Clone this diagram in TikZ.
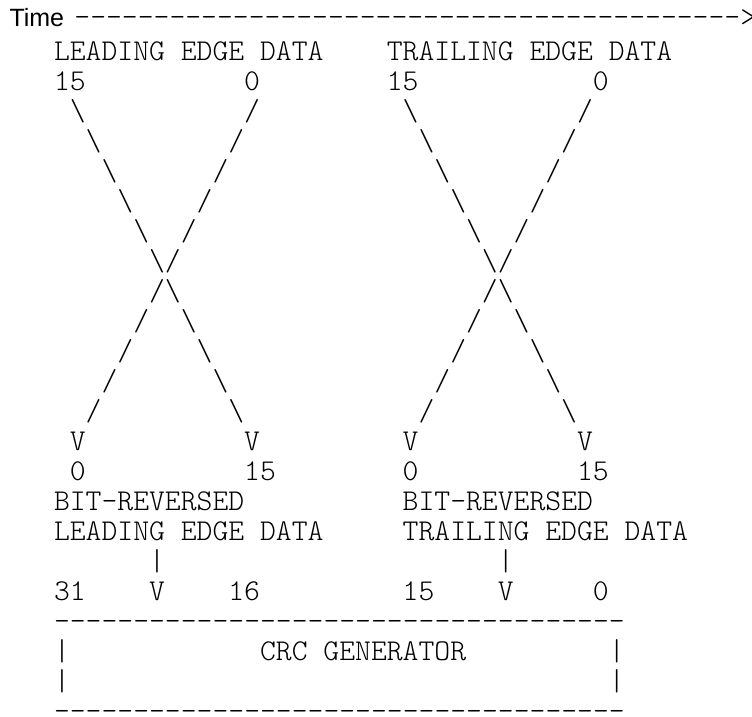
\documentclass[tikz,border=0pt]{standalone}
\usepackage{fontspec}
\newfontfamily\timefont{Liberation Sans}
\IfFontExistsTF{lmmonolt10-regular.otf}
  {\newfontfamily\monolt{lmmonolt10-regular.otf}
   \newcommand{\myascii}{\monolt\fontsize{30.2pt}{30pt}\selectfont}}
  {\newcommand{\myascii}{\ttfamily\fontsize{30.8pt}{30pt}\selectfont}}
\tikzset{
  asc/.style={inner sep=0pt,outer sep=0pt,anchor=base west,font=\myascii},
  timelbl/.style={inner sep=0pt,outer sep=0pt,anchor=base west,font=\timefont\fontsize{25pt}{30pt}\selectfont}
}
\begin{document}
\begin{tikzpicture}[x=1pt,y=1pt]
\useasboundingbox[fill=white] (0,0) rectangle (752,-717);
\node[timelbl] (time) at (9.5,-27) {Time};
\node[asc] (timeaxis) at (74.4,-27) {------------------------------------------>};
\begin{scope}[shift={(54,-30)}, x=15.85pt, y=-30pt]
  % row 1
  \node[asc] (l1a) at (0,1) {LEADING};
  \node[asc] (l1b) at (8,1) {EDGE};
  \node[asc] (l1c) at (13,1) {DATA};
  \node[asc] (t1a) at (21,1) {TRAILING};
  \node[asc] (t1b) at (30,1) {EDGE};
  \node[asc] (t1c) at (35,1) {DATA};
  % row 2
  \node[asc] (l2a) at (0,2) {15};
  \node[asc] (l2b) at (12,2) {0};
  \node[asc] (t2a) at (21,2) {15};
  \node[asc] (t2b) at (34,2) {0};
  % crossings
  \foreach \k in {0,...,5} {
    \pgfmathtruncatemacro{\rr}{3+\k}
    \node[asc] (lbs\k) at (1+\k,\rr) {\textbackslash};
    \node[asc] (lsl\k) at (12-\k,\rr) {/};
    \node[asc] (tbs\k) at (22+\k,\rr) {\textbackslash};
    \node[asc] (tsl\k) at (33-\k,\rr) {/};
  }
  \foreach \k in {0,...,4} {
    \pgfmathtruncatemacro{\rr}{9+\k}
    \node[asc] (lsm\k) at (6-\k,\rr) {/};
    \node[asc] (lbm\k) at (7+\k,\rr) {\textbackslash};
    \node[asc] (tsm\k) at (27-\k,\rr) {/};
    \node[asc] (tbm\k) at (28+\k,\rr) {\textbackslash};
  }
  % row 14
  \node[asc] (lv1) at (1,14) {V};
  \node[asc] (lv2) at (12,14) {V};
  \node[asc] (tv1) at (22,14) {V};
  \node[asc] (tv2) at (33,14) {V};
  % row 15
  \node[asc] (l15a) at (1,15) {0};
  \node[asc] (l15b) at (12,15) {15};
  \node[asc] (t15a) at (22,15) {0};
  \node[asc] (t15b) at (33,15) {15};
  % row 16-17
  \node[asc] (lbr) at (0,16) {BIT-REVERSED};
  \node[asc] (tbr) at (22,16) {BIT-REVERSED};
  \node[asc] (l17a) at (0,17) {LEADING};
  \node[asc] (l17b) at (8,17) {EDGE};
  \node[asc] (l17c) at (13,17) {DATA};
  \node[asc] (t17a) at (22,17) {TRAILING};
  \node[asc] (t17b) at (31,17) {EDGE};
  \node[asc] (t17c) at (36,17) {DATA};
  % row 18-19
  \node[asc] (lbar) at (6,18) {|};
  \node[asc] (tbar) at (28,18) {|};
  \node[asc] (l19a) at (0,19) {31};
  \node[asc] (l19v) at (6,19) {V};
  \node[asc] (l19b) at (11,19) {16};
  \node[asc] (t19a) at (22,19) {15};
  \node[asc] (t19v) at (28,19) {V};
  \node[asc] (t19b) at (34,19) {0};
  % CRC box
  \node[asc] (boxtop) at (0,20) {------------------------------------};
  \node[asc] (boxl1) at (0,21) {|};
  \node[asc] (crc1) at (13,21) {CRC};
  \node[asc] (crc2) at (17,21) {GENERATOR};
  \node[asc] (boxr1) at (35,21) {|};
  \node[asc] (boxl2) at (0,22) {|};
  \node[asc] (boxr2) at (35,22) {|};
  \node[asc] (boxbot) at (0,23) {------------------------------------};
\end{scope}
\end{tikzpicture}
\end{document}
